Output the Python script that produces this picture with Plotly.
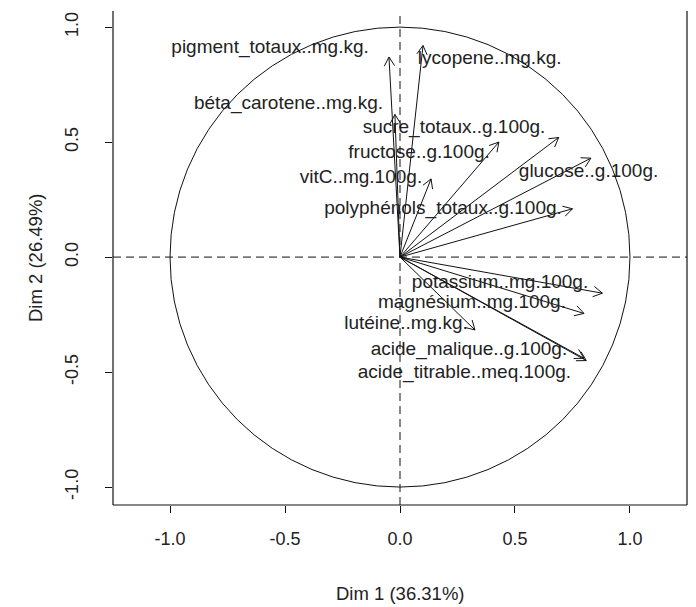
import numpy as np
import plotly.graph_objects as go

# Variable coordinates on the first two principal dimensions
variables = [
    "pigment_totaux..mg.kg.", "lycopene..mg.kg.", "béta_carotene..mg.kg.",
    "sucre_totaux..g.100g.", "fructose..g.100g.", "vitC..mg.100g.",
    "glucose..g.100g.", "polyphénols_totaux..g.100g.",
    "potassium..mg.100g.", "magnésium..mg.100g.", "lutéine..mg.kg.",
    "acide_malique..g.100g.", "acide_titrable..meq.100g.",
]
dim1 = [-0.048, 0.100, -0.022, 0.690, 0.430, 0.135, 0.830, 0.750,
        0.880, 0.800, 0.326, 0.810, 0.800]
dim2 = [0.870, 0.920, 0.620, 0.520, 0.500, 0.340, 0.430, 0.210,
        -0.157, -0.245, -0.317, -0.450, -0.440]

# Where each label is centred (after label de-overlapping)
label_x = [-0.565, 0.390, -0.485, 0.235, 0.083, -0.170, 0.820, 0.187,
           0.435, 0.313, 0.026, 0.300, 0.280]
label_y = [0.910, 0.860, 0.665, 0.560, 0.452, 0.343, 0.370, 0.209,
           -0.113, -0.200, -0.290, -0.404, -0.504]

tick_vals = [-1.0, -0.5, 0.0, 0.5, 1.0]
tick_text = ["-1.0", "-0.5", "0.0", "0.5", "1.0"]
x_title = "Dim 1 (36.31%)"
y_title = "Dim 2 (26.49%)"

FONT = "Liberation Sans, Arial, sans-serif"
INK = "#111111"
TXT = "#222222"

# Arrow shafts and open V heads (30 degrees, fixed length)
head_len = 0.045
head_ang = np.deg2rad(30)
xs, ys = [], []
for x, y in zip(dim1, dim2):
    xs += [0, x, None]
    ys += [0, y, None]
    theta = np.arctan2(y, x)
    for s in (1, -1):
        a = theta + np.pi + s * head_ang
        xs += [x, x + head_len * np.cos(a), None]
        ys += [y, y + head_len * np.sin(a), None]

fig = go.Figure()
fig.add_trace(go.Scatter(x=xs, y=ys, mode="lines",
                         line=dict(color=INK, width=1), hoverinfo="skip",
                         showlegend=False))
fig.add_trace(go.Scatter(x=label_x, y=label_y, mode="text", text=variables,
                         textposition="middle center",
                         textfont=dict(family=FONT, size=19, color=TXT),
                         showlegend=False, hoverinfo="skip"))

# Unit correlation circle
fig.add_shape(type="circle", xref="x", yref="y", x0=-1, y0=-1, x1=1, y1=1,
              line=dict(color=INK, width=1))
# Dashed reference lines through the origin
fig.add_shape(type="line", xref="paper", yref="y", x0=0, x1=1, y0=0, y1=0,
              line=dict(color=INK, width=1, dash="8px,5px"))
fig.add_shape(type="line", xref="x", yref="paper", x0=0, x1=0, y0=0, y1=1,
              line=dict(color=INK, width=1, dash="8px,5px"))
# Frame (left, bottom, right)
for (x0, y0, x1, y1) in [(0, 0, 0, 1), (0, 0, 1, 0), (1, 0, 1, 1)]:
    fig.add_shape(type="line", xref="paper", yref="paper",
                  x0=x0, y0=y0, x1=x1, y1=y1,
                  line=dict(color=INK, width=1.2))

fig.add_annotation(text=x_title, xref="paper", yref="paper", x=0.5, y=0,
                   yshift=-88, showarrow=False, yanchor="middle",
                   font=dict(family=FONT, size=18.5, color=TXT))
fig.add_annotation(text=y_title, xref="paper", yref="paper", x=0, y=0.5,
                   xshift=-78, showarrow=False, textangle=-90,
                   xanchor="center", font=dict(family=FONT, size=18.5,
                                               color=TXT))

axis_common = dict(tickmode="array", tickvals=tick_vals, ticktext=tick_text,
                   ticks="outside", ticklen=7, tickcolor=INK, tickwidth=1,
                   showgrid=False, zeroline=False, showline=False,
                   tickfont=dict(family=FONT, size=18, color=TXT))

fig.update_layout(
    width=696, height=607, autosize=False,
    margin=dict(l=113, r=9, t=11, b=102),
    paper_bgcolor="white", plot_bgcolor="white",
    xaxis=dict(range=[-1.248, 1.248], ticklabelstandoff=10, **axis_common),
    yaxis=dict(range=[-1.078, 1.070], tickangle=-90, ticklabelstandoff=20,
               **axis_common),
)

fig.write_html("out.html")
